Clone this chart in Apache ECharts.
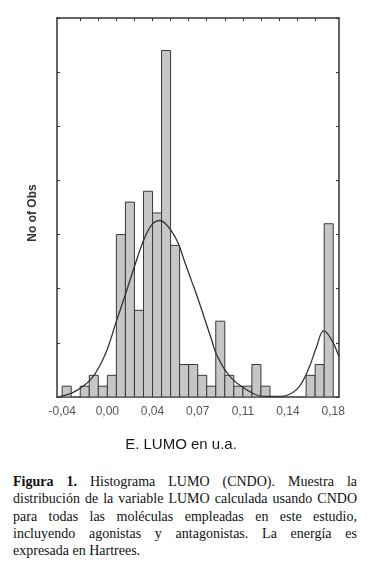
<!DOCTYPE html>
<html>
<head>
<meta charset="utf-8">
<script src="https://cdn.jsdelivr.net/npm/echarts@6/dist/echarts.min.js"></script>
<style>
  body { margin: 0; background: #fff; }
  #chart { position: absolute; left: 0; top: 0; width: 384px; height: 465px; }
  #caption {
    position: absolute; left: 13px; top: 473px; width: 344px;
    font-family: "Liberation Serif", "DejaVu Serif", serif;
    font-size: 14px; line-height: 17.3px; color: #111;
  }
  #caption div { text-align: justify; text-align-last: justify; white-space: nowrap; }
  #caption div.last { text-align-last: left; }
</style>
</head>
<body>
<div id="chart"></div>
<div id="caption">
  <div><b>Figura 1.</b> Histograma LUMO (CNDO). Muestra la</div>
  <div>distribución de la variable LUMO calculada usando CNDO</div>
  <div>para todas las moléculas empleadas en este estudio,</div>
  <div>incluyendo agonistas y antagonistas. La energía es</div>
  <div class="last">expresada en Hartrees.</div>
</div>

<script>
// histograma: 30 clases entre -0.04 y 0.18
var binMin = -0.04;
var binMax = 0.18;
var counts = [1, 0, 1, 2, 1, 2, 15, 18, 8, 19, 17, 32, 14, 3, 3, 2, 1, 7, 2, 1, 1, 3, 1, 0, 0, 0, 0, 2, 3, 16];

// etiquetas del eje x
var tickLabels = ["-0,04", "0,00", "0,04", "0,07", "0,11", "0,14", "0,18"];

// curva ajustada
var curveX = [-0.0416, -0.0295, -0.0159, -0.0052, 0.0043, 0.0111, 0.0178, 0.0259, 0.0327, 0.0394, 0.0435, 0.0489,
  0.0542, 0.0597, 0.0651, 0.0705, 0.0759, 0.0813, 0.0854, 0.0961, 0.1097, 0.1231, 0.1367, 0.1502, 0.1596, 0.1664,
  0.1723, 0.1786, 0.1845];
var curveY = [0.06, 0.52, 1.75, 3.9, 7.1, 9.4, 11.75, 14.4, 15.9, 16.3, 16.05, 15.3,
  14.2, 12.4, 10.7, 8.98, 7.13, 5.29, 3.9, 1.9, 0.67, 0.06, 0.06, 0.68, 2.5, 4.6,
  6.1, 5.3, 3.75];

var binW = (binMax - binMin) / counts.length;
var bars = [];
counts.forEach(function (c, i) {
  if (c > 0) bars.push([binMin + i * binW, binMin + (i + 1) * binW, c]);
});
var curve = curveX.map(function (x, i) { return [x, curveY[i]]; });

var labelValues = tickLabels.map(function (t, i) { return binMin + i * (binMax - binMin) / (tickLabels.length - 1); });
var topTicks = [];
for (var k = 1; k < 15; k++) topTicks.push(binMin + k * (binMax - binMin) / 15);

var xMin = -0.0442, xMax = 0.1847;
var frame = { show: true, onZero: false, lineStyle: { color: "#333", width: 1.5 } };

var myChart = echarts.init(document.getElementById("chart"));
var option = {
  animation: false,
  backgroundColor: "#fff",
  grid: { left: 57, top: 18, width: 282, height: 379 },
  xAxis: [
    {
      type: "value", min: xMin, max: xMax, position: "bottom",
      axisLine: frame,
      axisTick: { show: false },
      splitLine: { show: false },
      axisLabel: {
        customValues: labelValues,
        margin: 9,
        color: "#555",
        fontSize: 12,
        fontFamily: "Liberation Sans, Arial, sans-serif",
        formatter: function (v) {
          var idx = 0, best = 1;
          labelValues.forEach(function (lv, i) { if (Math.abs(lv - v) < best) { best = Math.abs(lv - v); idx = i; } });
          return tickLabels[idx];
        }
      },
      name: "E. LUMO en u.a.",
      nameLocation: "middle",
      nameGap: 40,
      nameTextStyle: { color: "#1a1a1a", fontSize: 15, fontFamily: "Liberation Sans, Arial, sans-serif", padding: [0, 34, 0, 0] }
    },
    {
      type: "value", min: xMin, max: xMax, position: "top",
      axisLine: frame,
      axisTick: { show: true, inside: true, length: 3, customValues: topTicks, lineStyle: { color: "#333" } },
      axisLabel: { show: false },
      splitLine: { show: false }
    }
  ],
  yAxis: [
    {
      type: "value", min: 0, max: 35, interval: 5, position: "left",
      axisLine: frame,
      axisTick: { show: true, inside: true, length: 3, lineStyle: { color: "#333" } },
      axisLabel: { show: false },
      splitLine: { show: false },
      name: "No of Obs",
      nameLocation: "middle",
      nameGap: 18,
      nameTextStyle: { color: "#333", fontSize: 12, fontWeight: "bold", fontFamily: "Liberation Sans, Arial, sans-serif", padding: [0, 11, 0, 0] }
    },
    {
      type: "value", min: 0, max: 35, interval: 5, position: "right",
      axisLine: frame,
      axisTick: { show: true, inside: true, length: 3, lineStyle: { color: "#333" } },
      axisLabel: { show: false },
      splitLine: { show: false }
    }
  ],
  series: [
    {
      type: "custom",
      xAxisIndex: 0, yAxisIndex: 0,
      clip: true,
      data: bars,
      renderItem: function (params, api) {
        var p0 = api.coord([api.value(0), api.value(2)]);
        var p1 = api.coord([api.value(1), 0]);
        return {
          type: "rect",
          shape: { x: p0[0], y: p0[1], width: p1[0] - p0[0], height: p1[1] - p0[1] },
          style: { fill: "#c6c6c6", stroke: "#3a3a3a", lineWidth: 1 }
        };
      },
      z: 2
    },
    {
      type: "line",
      xAxisIndex: 0, yAxisIndex: 0,
      data: curve,
      smooth: 0.4,
      symbol: "none",
      clip: true,
      lineStyle: { color: "#333", width: 1.3 },
      z: 3
    }
  ]
};
myChart.setOption(option);
window.onresize = function () {
  myChart.resize();
};
</script>
</body>
</html>
